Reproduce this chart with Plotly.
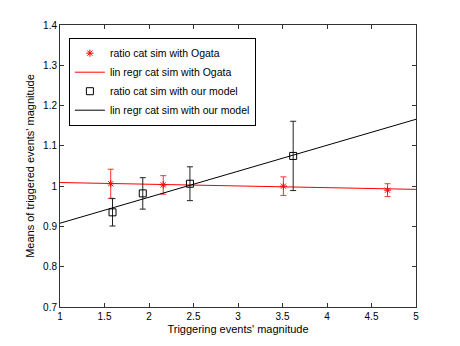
import plotly.graph_objects as go

# Ogata simulation ratios
ogata_x = [1.57, 2.16, 3.51, 4.68]
ogata_y = [1.006, 1.003, 1.000, 0.990]
ogata_err = [0.036, 0.023, 0.023, 0.016]

# Our model simulation ratios
model_x = [1.59, 1.93, 2.46, 3.62]
model_y = [0.935, 0.982, 1.006, 1.075]
model_err = [0.034, 0.039, 0.042, 0.086]

# Regression lines (end points)
line_x = [1, 5]
ogata_line_y = [1.009, 0.992]
model_line_y = [0.908, 1.166]

x_ticks = [1, 1.5, 2, 2.5, 3, 3.5, 4, 4.5, 5]
y_ticks = [0.7, 0.8, 0.9, 1.0, 1.1, 1.2, 1.3, 1.4]
y_ticktext = ["0.7", "0.8", "0.9", "1", "1.1", "1.2", "1.3", "1.4"]

FONT = "Liberation Sans, Arial, sans-serif"

fig = go.Figure()
fig.add_trace(go.Scatter(
    x=ogata_x, y=ogata_y, mode="markers", name="ratio cat sim with Ogata",
    marker=dict(symbol="asterisk-open", size=6, color="#ff0000", line=dict(width=1, color="#ff0000")),
    error_y=dict(type="data", array=ogata_err, color="#ff3030", thickness=1, width=3),
))
fig.add_trace(go.Scatter(
    x=line_x, y=ogata_line_y, mode="lines", name="lin regr cat sim with Ogata",
    line=dict(color="#ff0000", width=1),
))
fig.add_trace(go.Scatter(
    x=model_x, y=model_y, mode="markers", name="ratio cat sim with our model",
    marker=dict(symbol="square-open", size=7, color="#000000", line=dict(width=1)),
    error_y=dict(type="data", array=model_err, color="#222222", thickness=1, width=3),
))
fig.add_trace(go.Scatter(
    x=line_x, y=model_line_y, mode="lines", name="lin regr cat sim with our model",
    line=dict(color="#000000", width=1),
))

axis_common = dict(
    showgrid=False, zeroline=False, showline=True, mirror="ticks",
    linecolor="#333333", linewidth=1, ticks="inside", ticklen=4, tickcolor="#333333",
    tickfont=dict(family=FONT, size=10, color="#000000"),
)
fig.update_xaxes(range=[1, 5], tickvals=x_ticks, ticktext=[str(v) for v in x_ticks],
                 title=dict(text="Triggering events' magnitude", standoff=4,
                            font=dict(family=FONT, size=11)),
                 **axis_common)
fig.update_yaxes(range=[0.7, 1.4], tickvals=y_ticks, ticktext=y_ticktext,
                 title=dict(text="Means of triggered events' magnitude", standoff=6,
                            font=dict(family=FONT, size=11)),
                 **axis_common)

fig.update_layout(
    width=460, height=346,
    margin=dict(l=52, r=52, t=17, b=47),
    paper_bgcolor="white", plot_bgcolor="white",
    font=dict(family=FONT, size=10, color="#000000"),
    showlegend=True,
    legend=dict(x=0.025, y=0.955, xanchor="left", yanchor="top",
                bgcolor="white", bordercolor="#000000", borderwidth=1,
                font=dict(size=10.5), tracegroupgap=0, itemwidth=30),
)

fig.write_html("out.html")
